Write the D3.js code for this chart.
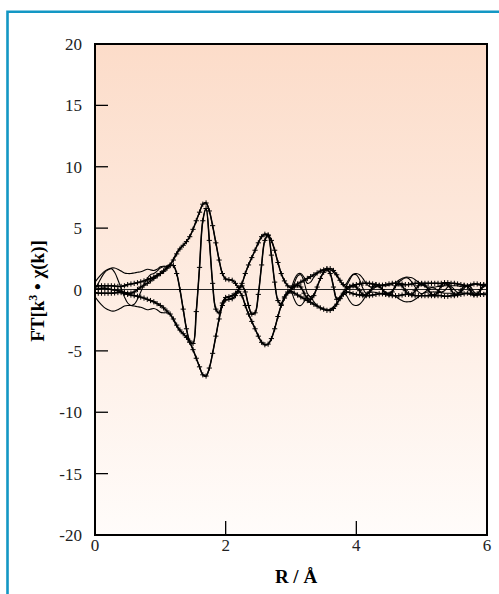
<!DOCTYPE html>
<html>
<head>
<meta charset="utf-8">
<script src="https://cdn.jsdelivr.net/npm/d3@7"></script>
<style>
body { margin: 0; background: #fff; }
svg { display: block; }
</style>
</head>
<body>
<div id="chart"></div>
<script>
// R grid: 0 .. 6 A, step 0.05 (121 points)
var R_STEP = 0.05;

// |FT| of the data (drawn as +|FT| and -|FT|)
var magData = [0.25,0.3,0.3,0.3,0.3,0.3,0.28,0.25,0.25,0.3,
  0.4,0.45,0.5,0.55,0.62,0.7,0.8,0.9,1.0,1.15,
  1.3,1.5,1.75,2.0,2.4,2.9,3.3,3.6,3.9,4.3,
  4.9,5.6,6.3,6.95,7.05,6.4,5.2,3.8,2.4,1.3,
  0.85,0.8,0.75,0.5,0.15,0.5,1.3,2.0,2.6,3.2,
  3.8,4.3,4.5,4.45,4.0,3.2,2.2,1.3,0.7,0.3,
  0.15,0.3,0.45,0.6,0.75,0.9,1.05,1.2,1.35,1.5,
  1.6,1.7,1.7,1.55,1.2,0.75,0.4,0.2,0.25,0.35,
  0.4,0.45,0.5,0.5,0.5,0.45,0.4,0.35,0.35,0.4,
  0.45,0.5,0.5,0.5,0.45,0.4,0.4,0.45,0.5,0.5,
  0.5,0.5,0.5,0.5,0.5,0.5,0.5,0.55,0.55,0.5,
  0.5,0.45,0.4,0.35,0.3,0.35,0.45,0.45,0.4,0.4,
  0.4];

// imaginary part of the data
var imData = [0.0,0.05,0.1,0.1,0.05,0.0,-0.05,-0.1,-0.15,-0.25,
  -0.3,-0.3,-0.2,0.0,0.2,0.35,0.5,0.7,0.9,1.1,
  1.3,1.5,1.75,1.95,1.95,1.3,0.0,-1.6,-3.2,-4.2,
  -4.4,-1.8,1.8,5.6,6.6,4.0,0.5,-1.6,-1.9,-1.1,
  -0.65,-0.6,-0.5,-0.3,0.0,0.3,-0.2,-1.3,-2.0,-1.9,
  -0.4,2.0,4.0,4.4,2.8,0.6,-0.9,-1.2,-0.6,-0.2,
  0.0,0.2,0.35,0.2,-0.3,-0.7,-0.8,-0.5,0.2,0.9,
  1.4,1.65,1.3,0.2,-0.8,-0.7,-0.3,0.0,0.2,0.3,
  0.2,-0.1,-0.4,-0.45,-0.2,0.2,0.4,0.3,0.0,-0.35,
  -0.4,-0.2,0.3,0.45,0.3,-0.1,-0.35,-0.4,-0.1,0.3,
  0.45,0.35,0.0,-0.4,-0.45,-0.2,0.3,0.5,0.4,0.0,
  -0.4,-0.4,-0.1,0.3,0.25,-0.1,-0.4,-0.35,0.0,0.35,
  0.4];

// |FT| of the fit
var magFit = [0.6,0.95,1.25,1.5,1.65,1.75,1.75,1.65,1.5,1.35,
  1.3,1.3,1.35,1.4,1.45,1.55,1.65,1.6,1.55,1.65,
  1.85,1.9,1.9,2.05,2.5,3.0,3.4,3.6,3.9,4.3,
  4.9,5.6,6.3,6.95,7.05,6.4,5.2,3.8,2.4,1.3,
  0.85,0.8,0.75,0.5,0.15,0.5,1.3,2.0,2.6,3.2,
  3.8,4.3,4.5,4.45,4.0,3.2,2.2,1.3,0.7,0.3,
  0.2,0.8,1.25,1.3,1.0,0.5,0.6,1.0,1.3,1.5,
  1.6,1.65,1.6,1.4,1.1,0.7,0.3,0.5,0.95,1.25,
  1.3,1.2,0.9,0.5,0.25,0.2,0.25,0.3,0.3,0.3,
  0.35,0.4,0.55,0.75,0.9,1.0,1.0,0.95,0.8,0.6,
  0.4,0.25,0.2,0.2,0.2,0.25,0.25,0.3,0.3,0.3,
  0.3,0.3,0.25,0.3,0.35,0.4,0.45,0.4,0.35,0.3,
  0.3];

// imaginary part of the fit
var imFit = [0.0,0.5,1.0,1.4,1.6,1.7,1.4,0.8,0.1,-0.6,
  -1.1,-1.3,-1.2,-0.8,-0.2,0.4,0.9,1.2,1.3,1.5,
  1.75,1.85,1.85,1.95,1.95,1.3,0.0,-1.6,-3.2,-4.2,
  -4.4,-1.8,1.8,5.6,6.6,4.0,0.5,-1.6,-1.9,-1.1,
  -0.65,-0.6,-0.5,-0.3,0.0,0.3,-0.2,-1.3,-2.0,-1.9,
  -0.4,2.0,4.0,4.4,2.8,0.6,-0.9,-1.2,-0.6,-0.2,
  0.0,0.5,1.1,1.2,0.6,-0.3,-0.6,-0.4,0.2,0.9,
  1.4,1.6,1.3,0.3,-0.7,-0.6,-0.2,0.3,0.8,1.2,
  1.2,0.8,0.1,-0.3,-0.2,0.0,0.2,0.2,0.0,-0.2,
  -0.3,-0.1,0.3,0.6,0.8,0.95,0.9,0.6,0.2,-0.2,
  -0.35,-0.2,0.0,0.15,0.1,-0.1,-0.2,-0.1,0.2,0.25,
  0.0,-0.25,-0.2,0.1,0.3,0.2,-0.2,-0.35,-0.1,0.25,
  0.3];

var xTicks = [0, 2, 4, 6];
var yTicks = [-20, -15, -10, -5, 0, 5, 10, 15, 20];

var width = 499, height = 594;
var pLeft = 95, pRight = 487, pTop = 44, pBottom = 535;
var font = "'Liberation Serif', 'Times New Roman', Times, 'DejaVu Serif', serif";

var svg = d3.select('#chart').append('svg')
  .attr('width', width)
  .attr('height', height);

// blue frame round the figure
svg.append('path')
  .attr('d', 'M7.5,' + height + 'V11.8H' + width)
  .attr('fill', 'none')
  .attr('stroke', '#1397c4')
  .attr('stroke-width', 2.6);

var defs = svg.append('defs');
var grad = defs.append('linearGradient')
  .attr('id', 'bg').attr('x1', 0).attr('y1', 0).attr('x2', 0).attr('y2', 1);
grad.append('stop').attr('offset', '0%').attr('stop-color', '#fcdcc9');
grad.append('stop').attr('offset', '100%').attr('stop-color', '#fffcfa');

defs.append('clipPath').attr('id', 'clip')
  .append('rect')
  .attr('x', pLeft).attr('y', pTop)
  .attr('width', pRight - pLeft).attr('height', pBottom - pTop);

var x = d3.scaleLinear().domain([0, 6]).range([pLeft, pRight]);
var y = d3.scaleLinear().domain([-20, 20]).range([pBottom, pTop]);

svg.append('rect')
  .attr('x', pLeft).attr('y', pTop)
  .attr('width', pRight - pLeft).attr('height', pBottom - pTop)
  .attr('fill', 'url(#bg)');

// zero line
svg.append('line')
  .attr('x1', pLeft).attr('x2', pRight)
  .attr('y1', y(0)).attr('y2', y(0))
  .attr('stroke', '#222').attr('stroke-width', 1);

function pts(arr, sign) {
  return arr.map(function (v, i) {
    return [i * R_STEP, sign * v];
  });
}

var line = d3.line()
  .x(function (d) { return x(d[0]); })
  .y(function (d) { return y(d[1]); })
  .curve(d3.curveCatmullRom.alpha(0.5));

var plot = svg.append('g').attr('clip-path', 'url(#clip)');

// fit curves: thin lines
[pts(magFit, 1), pts(magFit, -1), pts(imFit, 1)].forEach(function (s) {
  plot.append('path')
    .attr('d', line(s))
    .attr('fill', 'none')
    .attr('stroke', '#000')
    .attr('stroke-width', 1.1);
});

// data curves: line with + markers
var cross = 'M-2.6,0H2.6M0,-2.6V2.6';
[pts(magData, 1), pts(magData, -1), pts(imData, 1)].forEach(function (s) {
  plot.append('path')
    .attr('d', line(s))
    .attr('fill', 'none')
    .attr('stroke', '#000')
    .attr('stroke-width', 1.5);
  plot.append('g').selectAll('path').data(s)
    .enter().append('path')
    .attr('d', cross)
    .attr('transform', function (d) { return 'translate(' + x(d[0]) + ',' + y(d[1]) + ')'; })
    .attr('stroke', '#000')
    .attr('stroke-width', 1);
});

// ticks inside the frame
svg.append('g').selectAll('line')
  .data(yTicks.filter(function (d) { return d !== 0 && Math.abs(d) !== 20; }))
  .enter().append('line')
  .attr('x1', pLeft).attr('x2', pLeft + 13)
  .attr('y1', function (d) { return y(d); })
  .attr('y2', function (d) { return y(d); })
  .attr('stroke', '#000').attr('stroke-width', 1.3);

svg.append('g').selectAll('line')
  .data(xTicks.filter(function (d) { return d > 0 && d < 6; }))
  .enter().append('line')
  .attr('x1', function (d) { return x(d); })
  .attr('x2', function (d) { return x(d); })
  .attr('y1', pBottom).attr('y2', pBottom - 14)
  .attr('stroke', '#000').attr('stroke-width', 1.3);

// frame
svg.append('rect')
  .attr('x', pLeft).attr('y', pTop)
  .attr('width', pRight - pLeft).attr('height', pBottom - pTop)
  .attr('fill', 'none')
  .attr('stroke', '#000')
  .attr('stroke-width', 2);

svg.append('g').selectAll('text')
  .data(yTicks)
  .enter().append('text')
  .attr('x', 82)
  .attr('y', function (d) { return y(d) + 6; })
  .attr('text-anchor', 'end')
  .style('font-family', font)
  .style('font-size', '17px')
  .attr('fill', '#222')
  .text(function (d) { return d; });

svg.append('g').selectAll('text')
  .data(xTicks)
  .enter().append('text')
  .attr('x', function (d) { return x(d); })
  .attr('y', 551)
  .attr('text-anchor', 'middle')
  .style('font-family', font)
  .style('font-size', '17px')
  .attr('fill', '#222')
  .text(function (d) { return d; });

svg.append('text')
  .attr('x', 296)
  .attr('y', 583)
  .attr('text-anchor', 'middle')
  .style('font-family', font)
  .style('font-size', '19px')
  .style('font-weight', 'bold')
  .text('R / Å');

var yt = svg.append('text')
  .attr('transform', 'translate(44,291) rotate(-90)')
  .attr('text-anchor', 'middle')
  .style('font-family', font)
  .style('font-size', '19px')
  .style('font-weight', 'bold');
yt.append('tspan').text('FT[k');
yt.append('tspan').style('font-size', '12px').attr('dy', -7).text('3');
yt.append('tspan').attr('dy', 7).text(' • χ(k)]');
</script>
</body>
</html>
